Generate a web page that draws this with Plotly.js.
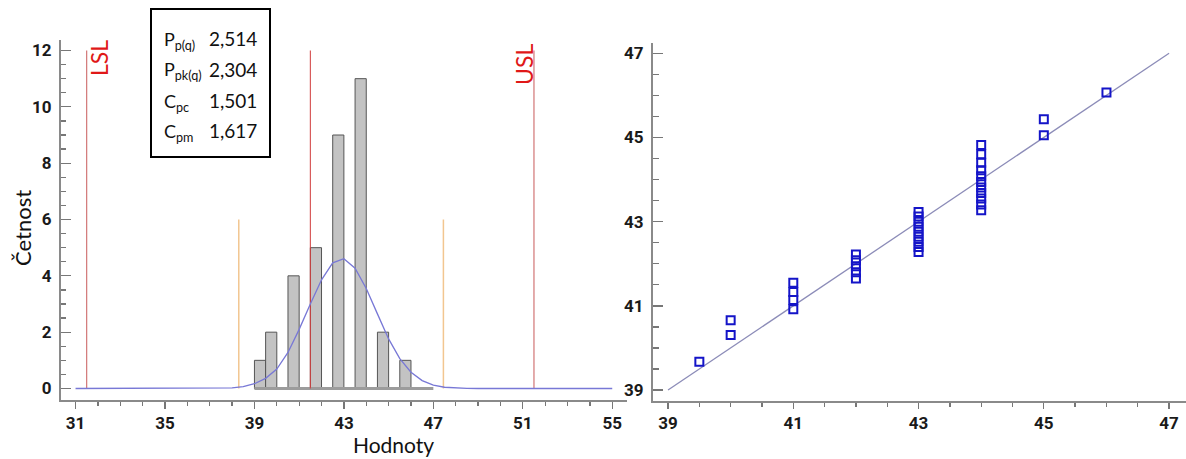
<!DOCTYPE html>
<html>
<head>
<meta charset="utf-8">
<script src="https://cdn.plot.ly/plotly-3.0.1.min.js"></script>
<style>
  html, body { margin: 0; padding: 0; background: #ffffff; }
  #chart { width: 1186px; height: 459px; }
</style>
</head>
<body>
<div id="chart"></div>
<script>
// Histogram of measured values (bin width 0.5)
const binCenters = [39.25, 39.75, 40.75, 41.75, 42.75, 43.75, 44.75, 45.75];
const binCounts = [1, 2, 4, 5, 9, 11, 2, 1];
const binWidth = 0.5;

// Fitted normal curve, read along the value axis
const curveX = [31, 36, 37, 37.5, 38, 38.5, 39, 39.5, 40, 40.5, 41, 41.5, 42, 42.5, 43,
                43.5, 44, 44.5, 45, 45.5, 46, 46.5, 47, 47.5, 48, 48.5, 49, 50, 55];
const curveY = [0, 0, 0.002, 0.007, 0.022, 0.065, 0.17, 0.36, 0.69, 1.28, 2.1, 3.0, 3.86, 4.46, 4.61,
                4.27, 3.55, 2.65, 1.76, 1.06, 0.58, 0.28, 0.12, 0.045, 0.015, 0.004, 0.001, 0, 0];

// Specification limits, nominal and the +/-3 sigma limits
const LSL = 31.5, USL = 51.5, nominal = 41.5;
const sigmaLow = 38.3, sigmaHigh = 47.45;
const specHeight = 12, sigmaHeight = 6;

// Capability indices shown in the box
const indexLabels = ['P<sub>p(q)</sub>', 'P<sub>pk(q)</sub>', 'C<sub>pc</sub>', 'C<sub>pm</sub>'];
const indexValues = ['2,514', '2,304', '1,501', '1,617'];

// Probability plot: rounded value vs. measured value
const qqX = [39.5, 40, 40,
             41, 41, 41, 41,
             42, 42, 42, 42, 42,
             43, 43, 43, 43, 43, 43, 43, 43, 43,
             44, 44, 44, 44, 44, 44, 44, 44, 44, 44, 44,
             45, 45, 46];
const qqY = [39.67, 40.31, 40.66,
             40.92, 41.14, 41.33, 41.55,
             41.65, 41.8, 41.94, 42.08, 42.22,
             42.28, 42.4, 42.52, 42.64, 42.76, 42.88, 43.0, 43.12, 43.23,
             43.27, 43.41, 43.55, 43.68, 43.81, 43.94, 44.08, 44.22, 44.4, 44.6, 44.82,
             45.05, 45.43, 46.07];
const refLineX = [39, 47];
const refLineY = [39, 47];

const W = 1186, H = 459;
const px = x => x / W;
const py = y => 1 - y / H;

const tickFont = { family: 'Liberation Sans Narrow, Arial Narrow, Roboto, sans-serif', size: 17, color: '#1a1a1a', weight: 'bold' };
const textFont = 'Lato, Open Sans, sans-serif';

const traces = [
  // grey base band under the histogram
  { x: [39, 47], y: [0, 0], xaxis: 'x', yaxis: 'y', mode: 'lines',
    line: { color: '#9c9c9c', width: 3 }, hoverinfo: 'skip' },
  { type: 'bar', x: binCenters, y: binCounts, width: binWidth, xaxis: 'x', yaxis: 'y',
    marker: { color: '#c3c3c3', line: { color: '#555555', width: 1 } } },
  { x: [LSL, LSL], y: [0, specHeight], xaxis: 'x', yaxis: 'y', mode: 'lines',
    line: { color: '#c85a5a', width: 1 } },
  { x: [nominal, nominal], y: [0, specHeight], xaxis: 'x', yaxis: 'y', mode: 'lines',
    line: { color: '#d03a3a', width: 1 } },
  { x: [USL, USL], y: [0, specHeight], xaxis: 'x', yaxis: 'y', mode: 'lines',
    line: { color: '#c85a5a', width: 1 } },
  { x: [sigmaLow, sigmaLow], y: [0, sigmaHeight], xaxis: 'x', yaxis: 'y', mode: 'lines',
    line: { color: '#f2c690', width: 1.5 } },
  { x: [sigmaHigh, sigmaHigh], y: [0, sigmaHeight], xaxis: 'x', yaxis: 'y', mode: 'lines',
    line: { color: '#f2c690', width: 1.5 } },
  { x: curveX, y: curveY, xaxis: 'x', yaxis: 'y', mode: 'lines',
    line: { color: '#7878d6', width: 1.3 } },
  // probability plot
  { x: refLineX, y: refLineY, xaxis: 'x2', yaxis: 'y2', mode: 'lines',
    line: { color: '#8c8cb8', width: 1.3 } },
  { x: qqX, y: qqY, xaxis: 'x2', yaxis: 'y2', mode: 'markers',
    marker: { symbol: 'square-open', size: 8, color: '#1414c8', line: { width: 2, color: '#1414c8' } } }
];

const axisBase = {
  showgrid: false, zeroline: false, showline: true,
  linecolor: '#8a8a8a', linewidth: 2, tickcolor: '#777777', tickwidth: 1.3,
  tickfont: tickFont, fixedrange: true
};

const annotations = [
  { text: 'Četnost', x: px(22), y: py(228), textangle: -90 },
  { text: 'Hodnoty', x: px(393), y: py(444), size: 21 },
  { text: 'LSL', x: px(99), y: py(58), textangle: -90, color: '#e01818', size: 23 },
  { text: 'USL', x: px(524), y: py(65), textangle: -90, color: '#e01818', size: 23 }
].map(a => ({
  text: a.text, x: a.x, y: a.y, xref: 'paper', yref: 'paper', showarrow: false,
  textangle: a.textangle || 0, xanchor: 'center', yanchor: 'middle',
  font: { family: textFont, size: a.size || 22, color: a.color || '#111111' }
}));

const rowY = [38, 69, 100, 130];
indexLabels.forEach((lab, i) => {
  annotations.push({ text: lab, x: px(162), y: py(rowY[i] + 2), xref: 'paper', yref: 'paper',
    showarrow: false, xanchor: 'left', yanchor: 'middle',
    font: { family: textFont, size: 18, color: '#111111' } });
  annotations.push({ text: indexValues[i], x: px(259), y: py(rowY[i]), xref: 'paper', yref: 'paper',
    showarrow: false, xanchor: 'right', yanchor: 'middle',
    font: { family: textFont, size: 19, color: '#111111' } });
});

const layout = {
  width: W, height: H,
  margin: { l: 0, r: 0, t: 0, b: 0 },
  paper_bgcolor: '#ffffff', plot_bgcolor: '#ffffff',
  showlegend: false, bargap: 0,
  xaxis: Object.assign({}, axisBase, {
    domain: [px(61), px(627)], range: [30.35, 55.66], anchor: 'y',
    tick0: 31, dtick: 4, ticks: 'outside', ticklen: 7,
    minor: { dtick: 1, ticks: 'outside', ticklen: 4, tickcolor: '#777777' }
  }),
  yaxis: Object.assign({}, axisBase, {
    domain: [1 - 400 / H, 1 - 40 / H], range: [-0.408, 12.373], anchor: 'x',
    tick0: 0, dtick: 2, ticks: 'inside', ticklen: 10, ticklabelstandoff: 4,
    minor: { dtick: 0.5, ticks: 'inside', ticklen: 5, tickcolor: '#777777' }
  }),
  xaxis2: Object.assign({}, axisBase, {
    domain: [px(653), 1], range: [38.76, 47.27], anchor: 'y2',
    tick0: 39, dtick: 2, ticks: 'outside', ticklen: 6,
    minor: { dtick: 0.5, ticks: 'outside', ticklen: 4, tickcolor: '#777777' }
  }),
  yaxis2: Object.assign({}, axisBase, {
    domain: [1 - 401 / H, 1 - 42.7 / H], range: [38.74, 47.25], anchor: 'x2',
    tick0: 39, dtick: 2, ticks: 'inside', ticklen: 10, ticklabelstandoff: 4,
    minor: { dtick: 0.5, ticks: 'inside', ticklen: 6, tickcolor: '#777777' }
  }),
  shapes: [
    { type: 'rect', xref: 'paper', yref: 'paper', x0: px(151), x1: px(270), y0: py(157), y1: py(9),
      line: { color: '#000000', width: 2 }, fillcolor: 'rgba(255,255,255,1)', layer: 'above' }
  ],
  annotations: annotations
};

Plotly.newPlot('chart', traces, layout, { displayModeBar: false, staticPlot: true });
</script>
</body>
</html>
